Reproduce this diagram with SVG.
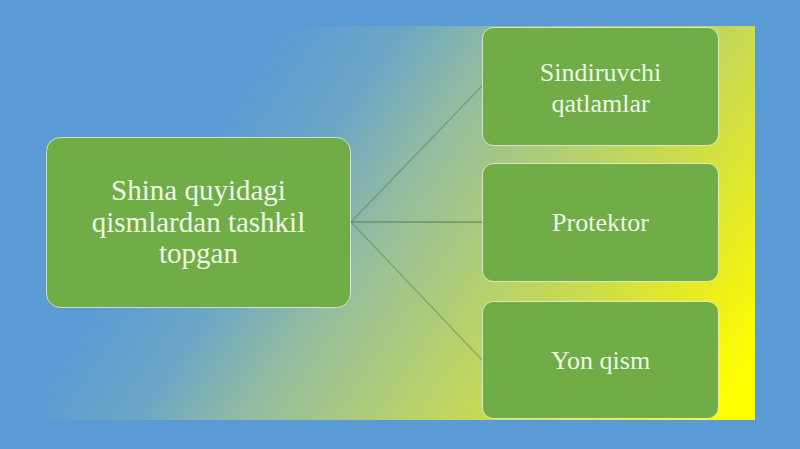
<svg xmlns="http://www.w3.org/2000/svg" width="800" height="449" viewBox="0 0 800 449">
  <defs>
    <linearGradient id="bgGrad" gradientUnits="userSpaceOnUse" x1="207" y1="140" x2="712" y2="482">
      <stop offset="0" stop-color="#5B9BD5"/>
      <stop offset="0.16" stop-color="#6CA6C6"/>
      <stop offset="0.31" stop-color="#94BCA0"/>
      <stop offset="0.51" stop-color="#B4D070"/>
      <stop offset="0.66" stop-color="#CCDC4C"/>
      <stop offset="0.84" stop-color="#EEF018"/>
      <stop offset="0.95" stop-color="#FFFF00"/>
    </linearGradient>
    <style>
      .box { fill: #70AD47; stroke: #FFFFFF; stroke-opacity: 0.65; stroke-width: 1; }
      .lbl { font-family: "Liberation Serif", "Times New Roman", serif; fill: #EEF7E6; text-anchor: middle; }
      .conn { stroke: #4E7D5A; stroke-width: 1.2; fill: none; }
    </style>
  </defs>

  <rect x="0" y="0" width="800" height="449" fill="#5B9BD5"/>
  <rect x="47" y="26" width="708" height="394" fill="url(#bgGrad)"/>

  <g id="connectors">
    <line class="conn" x1="351" y1="222" x2="482" y2="86" stroke-opacity="0.5"/>
    <line class="conn" x1="351" y1="222" x2="482" y2="222"/>
    <line class="conn" x1="351" y1="222" x2="482" y2="360" stroke-opacity="0.5"/>
  </g>

  <g id="node-shina">
    <rect class="box" x="46.5" y="137.5" width="304" height="170" rx="14"/>
    <text class="lbl" font-size="29" x="198.5" y="200">Shina quyidagi</text>
    <text class="lbl" font-size="29" x="198.5" y="232">qismlardan tashkil</text>
    <text class="lbl" font-size="29" x="198.5" y="263">topgan</text>
  </g>

  <g id="node-sindiruvchi">
    <rect class="box" x="482.5" y="27.5" width="236" height="118" rx="11"/>
    <text class="lbl" font-size="26" x="600.5" y="81">Sindiruvchi</text>
    <text class="lbl" font-size="26" x="600.5" y="112">qatlamlar</text>
  </g>

  <g id="node-protektor">
    <rect class="box" x="482.5" y="163.5" width="236" height="118" rx="11"/>
    <text class="lbl" font-size="26" x="600.5" y="231">Protektor</text>
  </g>

  <g id="node-yon">
    <rect class="box" x="482.5" y="301.5" width="236" height="117" rx="11"/>
    <text class="lbl" font-size="26" x="600.5" y="369">Yon qism</text>
  </g>
</svg>
